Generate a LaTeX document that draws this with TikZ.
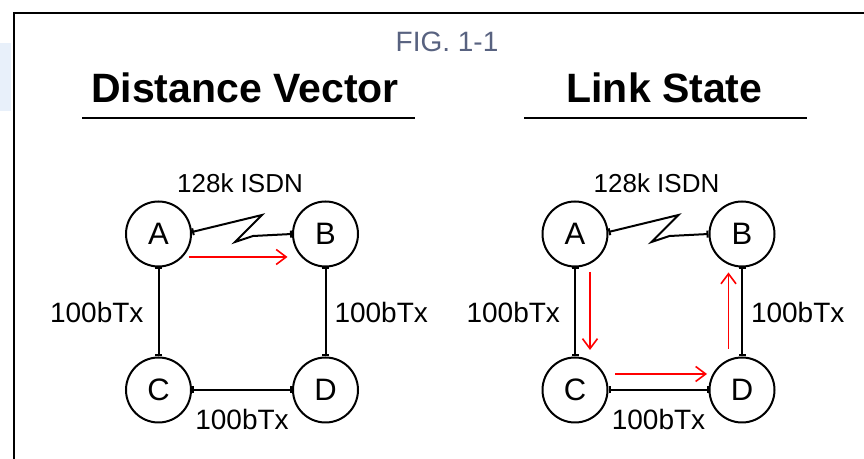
\documentclass[tikz,border=0pt]{standalone}
\usepackage{fontspec}
\setmainfont{Liberation Sans}
\usetikzlibrary{calc}
\usetikzlibrary{arrows.meta}
\definecolor{figgray}{RGB}{88,98,128}
\definecolor{sidetint}{RGB}{232,240,250}
\tikzset{router/.style={draw, circle, line width=1pt, minimum size=32.5pt, inner sep=0pt, font=\fontsize{15.5}{18}\selectfont}}
\tikzset{link/.style={line width=1pt, {Bar[width=3.5pt]}-{Bar[width=3.5pt]}}}
\tikzset{flow/.style={red, line width=0.8pt, -{Straight Barb[length=5pt,width=7.5pt]}}}
\tikzset{lbl/.style={font=\fontsize{14}{16}\selectfont, inner sep=0pt}}

\begin{document}
\begin{tikzpicture}[x=0.5pt, y=-0.5pt]
\useasboundingbox (0,0) rectangle (864,459);
\fill[sidetint] (0,43) rectangle (11,111);
\draw[line width=1pt] (864,13) -- (14,13) -- (14,459);

\node[lbl, figgray, anchor=base] (fig) at (447,52) {FIG. 1-1};
\node[anchor=base, inner sep=0pt, font=\fontsize{20.5}{24}\selectfont\bfseries] (dvtitle) at (245,103) {Distance Vector};
\node[anchor=base, inner sep=0pt, font=\fontsize{20.5}{24}\selectfont\bfseries] (lstitle) at (664.5,103) {Link State};
\draw[line width=1pt] (82,118) -- (415,118);
\draw[line width=1pt] (524,118) -- (807,118);

\foreach \s/\ox in {1/0, 2/416.5} {
  \node[router] (A\s) at (158.5+\ox,234) {A};
  \node[router] (B\s) at (325.5+\ox,234) {B};
  \node[router] (C\s) at (158.5+\ox,390) {C};
  \node[router] (D\s) at (325.5+\ox,390) {D};
  \draw[link] (A\s) -- node[lbl, left, xshift=-7pt]{100bTx} (C\s);
  \draw[link] (B\s) -- node[lbl, right, xshift=4pt]{100bTx} (D\s);
  \draw[link] (C\s) -- node[lbl, below, yshift=-9pt]{100bTx} (D\s);
  % isdn zigzag
  \draw[link] ([yshift=1pt]A\s.east) -- ++(70,-17) -- ++(-27,27) -- ++(18,-6) -- (B\s.west);
  \node[lbl, font=\fontsize{13}{15}\selectfont, anchor=base] (isdn\s) at ($(A\s)!0.5!(B\s)+(-2,-41)$) {128k ISDN};
}

\draw[flow] ($(A1)+(30,23)$) -- ($(B1)+(-38,23)$);
\draw[flow] ($(A2)+(15,38)$) -- ($(C2)+(15,-40)$);
\draw[flow] ($(C2)+(40,-16)$) -- ($(D2)+(-35,-16)$);
\draw[flow] ($(D2)+(-13.5,-41)$) -- ($(B2)+(-13.5,38.5)$);
\end{tikzpicture}
\end{document}
